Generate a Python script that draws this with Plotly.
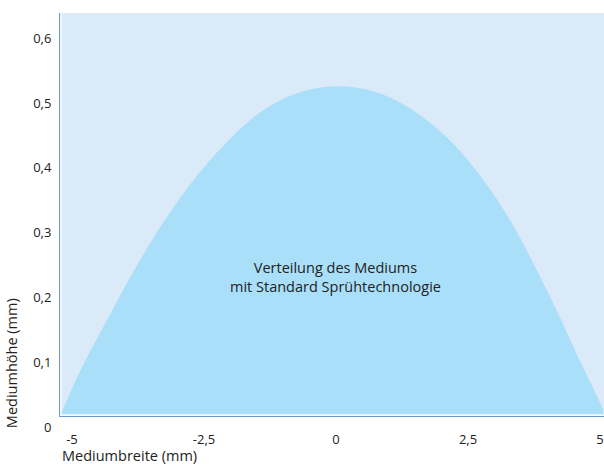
import plotly.graph_objects as go

# Curve (Mediumbreite in mm, Mediumhöhe in mm)
breite = [-5.195, -4.943, -4.627, -4.280, -3.939, -3.561, -3.144, -2.670, -2.159, -1.534, -0.909, -0.300,
          0.300, 0.900, 1.458, 2.102, 2.595, 3.049, 3.428, 3.807, 4.186, 4.564, 4.943, 5.057]
hoehe = [0.021, 0.068, 0.120, 0.172, 0.224, 0.277, 0.330, 0.383, 0.431, 0.479, 0.509, 0.523,
         0.524, 0.512, 0.488, 0.446, 0.401, 0.350, 0.299, 0.240, 0.177, 0.110, 0.046, 0.026]
basis = 0.02

x_ticks = [-5, -2.5, 0, 2.5, 5]
x_tick_text = ["-5", "-2,5", "0", "2,5", "5"]
y_ticks = [0.1, 0.2, 0.3, 0.4, 0.5, 0.6]
y_tick_text = ["0,1", "0,2", "0,3", "0,4", "0,5", "0,6"]

FONT = "Open Sans"
TXT = "#222222"
FILL = "#aadffa"

fig = go.Figure()
fig.add_trace(go.Scatter(
    x=[breite[0], breite[-1]], y=[basis, basis], mode="lines",
    line=dict(width=0, color=FILL), hoverinfo="skip", showlegend=False,
))
fig.add_trace(go.Scatter(
    x=breite, y=hoehe, mode="lines", fill="tonexty", fillcolor=FILL,
    line=dict(color=FILL, width=1, shape="spline", smoothing=1.0),
    hoverinfo="skip", showlegend=False,
))

y_lo, y_hi = 0.017, 0.639
fig.update_layout(
    width=604, height=464,
    margin=dict(l=60, r=0, t=13, b=48),
    paper_bgcolor="white", plot_bgcolor="#dbeaf8",
    font=dict(family=FONT, size=13, color=TXT),
    xaxis=dict(range=[-5.227, 5.076], tickvals=x_ticks, ticktext=x_tick_text,
               showgrid=False, zeroline=False, showline=True, linecolor="#6c9bd2", linewidth=1,
               ticks="outside", ticklen=11, tickcolor="rgba(0,0,0,0)"),
    yaxis=dict(range=[y_lo, y_hi], tickvals=y_ticks, ticktext=y_tick_text,
               showgrid=False, zeroline=False, showline=True, linecolor="#6c9bd2", linewidth=1,
               ticks="outside", ticklen=5, tickcolor="rgba(0,0,0,0)"),
    showlegend=False,
)

# inner white edge lines along axes
fig.add_shape(type="line", xref="paper", yref="paper", x0=0, x1=1, y0=0.002, y1=0.002,
              line=dict(color="white", width=1))
fig.add_shape(type="line", xref="paper", yref="paper", x0=0.002, x1=0.002, y0=0, y1=1,
              line=dict(color="white", width=1))

# "0" label below the axis
fig.add_annotation(text="0", xref="paper", yref="paper", x=0, xshift=-7, xanchor="right",
                   y=(0 - y_lo) / (y_hi - y_lo), yanchor="middle", showarrow=False,
                   font=dict(family=FONT, size=13, color=TXT))
# axis titles
fig.add_annotation(text="Mediumbreite (mm)", xref="paper", yref="paper", x=0, xanchor="left",
                   y=-0.097, yanchor="middle", showarrow=False,
                   font=dict(family=FONT, size=14.5, color=TXT))
fig.add_annotation(text="Mediumhöhe (mm)", xref="paper", yref="paper", x=-0.09, xanchor="center",
                   y=-0.035, yanchor="bottom", textangle=-90, showarrow=False,
                   font=dict(family=FONT, size=14.5, color=TXT))
# inner text
fig.add_annotation(text="Verteilung des Mediums<br>mit Standard Sprühtechnologie",
                   x=0, y=0.232, xref="x", yref="y", showarrow=False, align="center",
                   font=dict(family=FONT, size=14.5, color=TXT))

fig.write_html("out.html", config={"displayModeBar": False},
               post_script="document.body.style.margin='0';")
